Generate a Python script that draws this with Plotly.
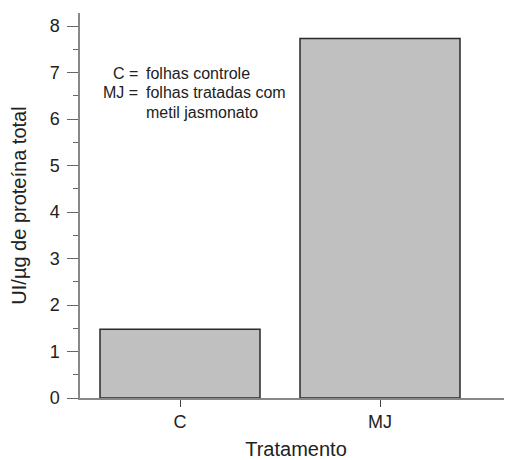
import plotly.graph_objects as go

tratamentos = ["C", "MJ"]
atividade = [1.48, 7.73]

legenda_siglas = ["C =", "MJ =", ""]
legenda_textos = ["folhas controle", "folhas tratadas com", "metil jasmonato"]

FONT = "Liberation Sans, Arial, Helvetica, sans-serif"

fig = go.Figure(go.Bar(
    x=tratamentos,
    y=atividade,
    width=0.8,
    marker=dict(color="#c0c0c0", line=dict(color="#2a2a2a", width=1.5)),
))

# legend text in the upper left, one row per line
linha_y = [6.97, 6.56, 6.15]
for sigla, texto, yy in zip(legenda_siglas, legenda_textos, linha_y):
    if sigla:
        fig.add_annotation(x=-0.18, y=yy, xref="x", yref="y", xanchor="right", yanchor="middle",
                           text=sigla, showarrow=False, xshift=-4,
                           font=dict(family=FONT, size=16, color="#222"))
    fig.add_annotation(x=-0.18, y=yy, xref="x", yref="y", xanchor="left", yanchor="middle",
                       text=texto, showarrow=False,
                       font=dict(family=FONT, size=16, color="#222"))

# the page body adds an 8px offset, so margins are shifted to compensate
fig.update_layout(
    width=512, height=460,
    margin=dict(l=72, r=8, t=5, b=70),
    paper_bgcolor="white", plot_bgcolor="white",
    showlegend=False,
    font=dict(family=FONT, color="#222"),
    xaxis=dict(
        range=[-0.5, 1.66], automargin=False,
        showline=True, linecolor="#888", linewidth=1.5,
        ticks="outside", ticklen=7, tickcolor="#444", tickwidth=1,
        tickfont=dict(size=18), showgrid=False, zeroline=False,
        title=dict(text="Tratamento", font=dict(size=20), standoff=11),
    ),
    yaxis=dict(
        range=[0, 8.28], automargin=False,
        showline=True, linecolor="#888", linewidth=1.5,
        ticks="outside", ticklen=11, tickcolor="#666", tickwidth=1.2,
        ticklabelstandoff=4,
        dtick=1, tickfont=dict(size=18), showgrid=False, zeroline=False,
        minor=dict(dtick=0.5, ticks="outside", ticklen=5, tickcolor="#666", showgrid=False),
        title=dict(text="UI/µg de proteína total", font=dict(size=20), standoff=19),
    ),
)

fig.write_html("out.html")
